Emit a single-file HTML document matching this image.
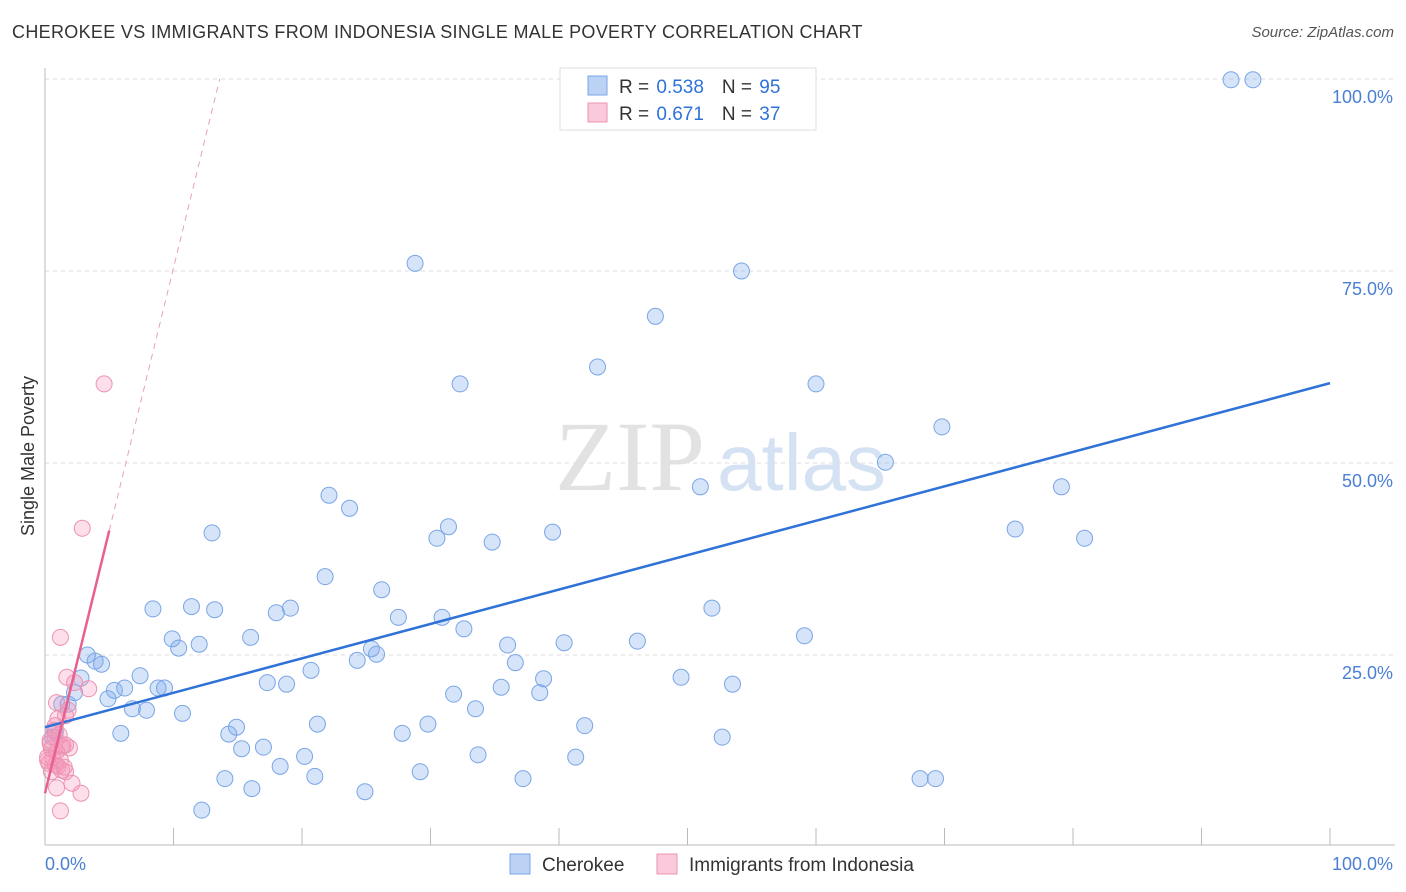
<!DOCTYPE html>
<html><head><meta charset="utf-8">
<style>
body{margin:0;background:#fff;font-family:"Liberation Sans",sans-serif;}
#wrap{position:relative;width:1406px;height:892px;overflow:hidden;}
.t{position:absolute;white-space:nowrap;}
</style></head>
<body>
<div id="wrap">
<div class="t" style="left:12px;top:22px;font-size:18px;color:#333;letter-spacing:0.32px;">CHEROKEE VS IMMIGRANTS FROM INDONESIA SINGLE MALE POVERTY CORRELATION CHART</div>
<div class="t" style="right:12px;top:24px;font-size:15px;color:#555;font-style:italic;">Source: ZipAtlas.com</div>
<svg id="chart" width="1406" height="892" style="position:absolute;left:0;top:0;"></svg>
</div>
<script>
const yTicks=[25,50,75,100];
const yTickLabels=["25.0%","50.0%","75.0%","100.0%"];
const xTickVals=[0,10,20,30,40,50,60,70,80,90,100];
const cherokeeX=[92.3,94.0,28.8,54.2,47.5,43.0,32.3,60.0,69.8,65.4,51.0,79.1,22.1,23.7,31.4,30.5,13.0,39.5,34.8,75.5,80.9,21.8,26.2,8.4,11.4,13.2,18.0,19.1,27.5,30.9,51.9,32.6,9.9,10.4,12.0,16.0,25.4,25.8,36.0,40.4,46.1,59.1,3.3,3.9,4.4,24.3,36.6,7.4,20.7,2.8,49.5,38.8,53.5,5.4,6.2,8.8,9.3,17.3,18.8,31.8,35.5,38.5,2.3,4.9,1.8,1.3,6.8,7.9,10.7,33.5,21.2,14.9,29.8,42.0,5.9,14.3,27.8,52.7,0.8,0.6,15.3,17.0,20.2,33.7,41.3,18.3,29.2,14.0,21.0,37.2,68.1,69.3,16.1,24.9,12.2];
const cherokeeY=[99.9,99.9,76.0,75.0,69.1,62.5,60.3,60.3,54.7,50.1,46.9,46.9,45.8,44.1,41.7,40.2,40.9,41.0,39.7,41.4,40.2,35.2,33.5,31.0,31.3,30.9,30.5,31.1,29.9,29.9,31.1,28.4,27.1,25.9,26.4,27.3,25.8,25.1,26.3,26.6,26.8,27.5,25.0,24.2,23.8,24.3,24.0,22.3,23.0,22.0,22.1,21.9,21.2,20.4,20.7,20.7,20.7,21.4,21.2,19.9,20.8,20.1,20.1,19.3,18.6,18.6,18.0,17.8,17.4,18.0,16.0,15.6,16.0,15.8,14.8,14.7,14.8,14.3,15.0,14.3,12.8,13.0,11.8,12.0,11.7,10.5,9.8,8.9,9.2,8.9,8.9,8.9,7.6,7.2,4.8];
const indoX=[4.6,2.9,1.2,1.7,2.3,3.4,0.9,1.8,1.6,1.0,0.8,0.8,0.4,1.3,1.9,0.5,1.4,0.9,0.6,1.2,0.3,0.8,1.0,1.3,1.6,0.5,1.5,2.1,2.8,0.9,1.2,0.2,0.4,0.7,0.2,1.1,1.6];
const indoY=[60.3,41.5,27.3,22.1,21.4,20.6,18.8,17.8,17.1,16.7,15.8,14.3,13.9,13.0,12.9,12.8,13.2,12.4,11.6,11.3,10.9,10.7,10.5,10.0,9.8,9.8,10.4,8.3,7.0,7.7,4.7,11.7,13.5,15.2,11.3,14.6,13.3];
const blueTrend=[15.6,60.4];
const pinkTrend=[7.0,6.84];
const X=v=>45+v*12.85, Y=v=>847-v*7.68;
const svg=document.getElementById('chart');const NS='http://www.w3.org/2000/svg';
function mk(t,a,parent){const e=document.createElementNS(NS,t);for(const k in a)e.setAttribute(k,a[k]);(parent||svg).appendChild(e);return e;}
let wm=mk('text',{x:555,y:490,'font-size':100,'font-family':'Liberation Serif,serif',fill:'#e2e2e2'});wm.textContent='ZIP';


let wm2=mk('text',{x:717,y:490,'font-size':80,'font-family':'Liberation Sans,sans-serif',fill:'#d5e2f3'});wm2.textContent='atlas';


yTicks.forEach((v,i)=>{
 const g=mk('line',{x1:45,x2:1395,y1:Y(v),y2:Y(v),stroke:'#ddd','stroke-dasharray':'4,4'});
 
 
 const t=mk('text',{x:1393,y:Y(v)+24,'text-anchor':'end','font-size':18,fill:'#4a7fd4'});t.textContent=yTickLabels[i];
 
 
});
let ax=mk('line',{x1:45,x2:1395,y1:845,y2:845,stroke:'#bbb'});


let ay=mk('line',{x1:45,x2:45,y1:68,y2:845,stroke:'#bbb'});


xTickVals.forEach(v=>{if(v===0)return;const l=mk('line',{x1:X(v),x2:X(v),y1:828,y2:845,stroke:'#bbb'});
 
 });
let xl=mk('text',{x:45,y:870,'font-size':18,fill:'#4a7fd4'});xl.textContent='0.0%';


let xr=mk('text',{x:1393,y:870,'font-size':18,fill:'#4a7fd4','text-anchor':'end'});xr.textContent='100.0%';


let yt=mk('text',{x:34,y:456,'font-size':18,fill:'#333','text-anchor':'middle',transform:'rotate(-90 34 456)'});yt.textContent='Single Male Poverty';


cherokeeX.forEach((x,i)=>{const c=mk('circle',{cx:X(x),cy:Y(cherokeeY[i]),r:8,fill:'rgba(120,165,235,0.3)',stroke:'#7aa6e6','stroke-width':1});
 
 });
indoX.forEach((x,i)=>{const c=mk('circle',{cx:X(x),cy:Y(indoY[i]),r:8,fill:'rgba(245,150,185,0.3)',stroke:'#ec93b2','stroke-width':1});
 
 });
let bt=mk('line',{x1:X(0),y1:Y(blueTrend[0]),x2:X(100),y2:Y(blueTrend[1]),stroke:'#2f72d8','stroke-width':2.5});


const pEnd=5.0,pTop=(100-pinkTrend[0])/pinkTrend[1];
let pt=mk('line',{x1:X(0),y1:Y(pinkTrend[0]),x2:X(pEnd),y2:Y(pinkTrend[0]+pinkTrend[1]*pEnd),stroke:'#e8608e','stroke-width':2.5});


let pd=mk('line',{x1:X(pEnd),y1:Y(pinkTrend[0]+pinkTrend[1]*pEnd),x2:X(pTop),y2:Y(100),stroke:'#e8a0b8','stroke-width':1,'stroke-dasharray':'6,5'});


let lb=mk('rect',{x:560,y:68,width:256,height:62,fill:'#fff',stroke:'#ddd'});


[[0,'0.538','95','rgba(120,165,235,0.5)','#7aa6e6'],[1,'0.671','37','rgba(245,150,185,0.5)','#ec93b2']].forEach(([i,r,n,f,s])=>{
 const y=76+i*27;
 const b=mk('rect',{x:588,y:y,width:19,height:19,fill:f,stroke:s});
 
 
 const t=mk('text',{x:619,y:y+17,'font-size':19,fill:'#333'});
 t.innerHTML='R = <tspan fill="#2f72d8" dx="2">'+r+'</tspan><tspan dx="18" fill="#333">N = </tspan><tspan fill="#2f72d8" dx="2">'+n+'</tspan>';
 
 
});
[[510,'Cherokee','rgba(120,165,235,0.5)','#7aa6e6','legend-cherokee'],[657,'Immigrants from Indonesia','rgba(245,150,185,0.5)','#ec93b2','legend-indonesia']].forEach(([x,l,f,s,nm])=>{
 const b=mk('rect',{x:x,y:854,width:20,height:20,fill:f,stroke:s});
 
 
 const t=mk('text',{x:x+32,y:871,'font-size':19,fill:'#333'});t.textContent=l;
 
 
});
</script>
</body></html>
